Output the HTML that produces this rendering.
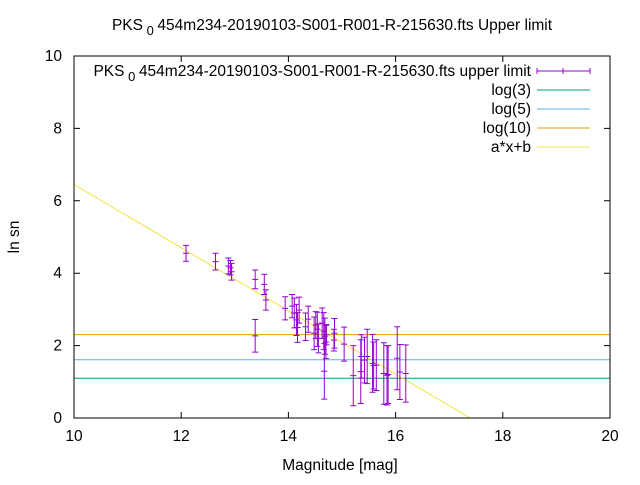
<!DOCTYPE html>
<html><head><meta charset="utf-8"><style>
body{margin:0;background:#fff}
svg{font-family:"Liberation Sans",sans-serif;font-size:15.5px}
</style></head><body>
<svg id="c" width="640" height="480" xmlns="http://www.w3.org/2000/svg"></svg>
<script>
const xTicks=[10,12,14,16,18,20];
const yTicks=[0,2,4,6,8,10];
const ptX=[12.09,12.64,12.88,12.94,12.92,13.38,13.55,13.58,13.38,13.94,14.07,14.11,14.15,14.2,14.17,14.32,14.37,14.48,14.51,14.54,14.56,14.63,14.66,14.68,14.7,14.67,14.71,14.86,14.85,15.04,15.21,15.35,15.36,15.42,15.47,15.57,15.59,15.64,15.78,15.84,15.86,16.03,16.08,16.19];
const ptY=[4.55,4.32,4.2,4.04,4.15,3.83,3.69,3.26,2.27,3.03,3.09,2.9,2.71,2.98,2.5,2.52,2.73,2.34,2.57,2.45,2.2,2.62,2.4,2.26,2.1,1.29,2.3,2.34,2.15,2.04,1.17,1.28,1.7,1.6,1.7,1.51,1.45,1.46,1.23,1.18,1.2,1.65,1.27,1.23];
const ptErr=[0.22,0.23,0.22,0.23,0.2,0.26,0.28,0.28,0.45,0.32,0.32,0.41,0.43,0.36,0.41,0.38,0.36,0.45,0.37,0.47,0.4,0.42,0.51,0.5,0.46,0.77,0.28,0.41,0.3,0.47,0.83,0.88,0.6,0.63,0.75,0.8,0.65,0.7,0.85,0.82,0.8,0.87,0.76,0.79];
const hLines=[Math.log(3),Math.log(5),Math.log(10)];
const hColors=['#009e73','#56b4e9','#e69f00'];
const fitA=-0.873, fitB=15.18;
const L=74,R=610,T=56,B=418;
const sx=v=>L+(v-10)/10*(R-L), sy=v=>B-v/10*(B-T);
const svg=document.getElementById('c');
const NS='http://www.w3.org/2000/svg';
function mk(tag,attrs,parent){const e=document.createElementNS(NS,tag);for(const k in attrs)e.setAttribute(k,attrs[k]);(parent||svg).appendChild(e);return e;}
let t=mk('text',{x:332,y:30,'text-anchor':'middle'});t.textContent='PKS';


let s=mk('tspan',{dy:5,'font-size':13},t);s.textContent=' 0 ';
s=mk('tspan',{dy:-5},t);s.textContent='454m234-20190103-S001-R001-R-215630.fts Upper limit';
const cp=mk('clipPath',{id:'cl'});mk('rect',{x:L,y:T,width:R-L,height:B-T},cp);
const g=mk('g',{'clip-path':'url(#cl)'});


hLines.forEach((v,i)=>{const l=mk('line',{x1:L,x2:R,y1:sy(v),y2:sy(v),stroke:hColors[i],'stroke-width':1},g);

});
const fl=mk('line',{x1:sx(10),y1:sy(fitA*10+fitB),x2:sx(20),y2:sy(fitA*20+fitB),stroke:'#f0e442','stroke-width':1},g);


ptX.forEach((x,i)=>{const X=sx(x),y0=sy(ptY[i]-ptErr[i]),y1=sy(ptY[i]+ptErr[i]),Y=sy(ptY[i]);
const p=mk('path',{d:`M${X},${y0}V${y1}M${X-3},${y0}H${X+3}M${X-3},${y1}H${X+3}M${X-3},${Y}H${X+3}`,stroke:'#9400d3','stroke-width':1,fill:'none'},g);

});
const fr=mk('rect',{x:L,y:T,width:R-L,height:B-T,fill:'none',stroke:'#000'});


xTicks.forEach(v=>{const X=sx(v);mk('path',{d:`M${X},${B}v-6M${X},${T}v6`,stroke:'#000'});
const tx=mk('text',{x:X,y:B+23,'text-anchor':'middle'});tx.textContent=v;

});
yTicks.forEach(v=>{const Y=sy(v);mk('path',{d:`M${L},${Y}h6M${R},${Y}h-6`,stroke:'#000'});
const tx=mk('text',{x:L-12,y:Y+5,'text-anchor':'end'});tx.textContent=v;

});
let xt=mk('text',{x:340,y:470,'text-anchor':'middle'});xt.textContent='Magnitude [mag]';


let yt=mk('text',{x:19,y:237,'text-anchor':'middle',transform:'rotate(-90 19 237)'});yt.textContent='ln sn';


const lg=[['upper','#9400d3'],['log(3)','#009e73'],['log(5)','#56b4e9'],['log(10)','#e69f00'],['a*x+b','#f0e442']];
lg.forEach((e,i)=>{const Y=71+i*19;
const tx=mk('text',{x:531,y:Y+5,'text-anchor':'end'});


if(i==0){tx.textContent='PKS';const a=mk('tspan',{dy:5,'font-size':13},tx);a.textContent=' 0 ';const b=mk('tspan',{dy:-5},tx);b.textContent='454m234-20190103-S001-R001-R-215630.fts upper limit';
mk('path',{d:`M${537},${Y}H590M537,${Y-3}v6M590,${Y-3}v6M563,${Y-3}v6`,stroke:e[1]});}
else{tx.textContent=e[0];mk('line',{x1:537,x2:590,y1:Y,y2:Y,stroke:e[1]});}});
</script>
</body></html>
